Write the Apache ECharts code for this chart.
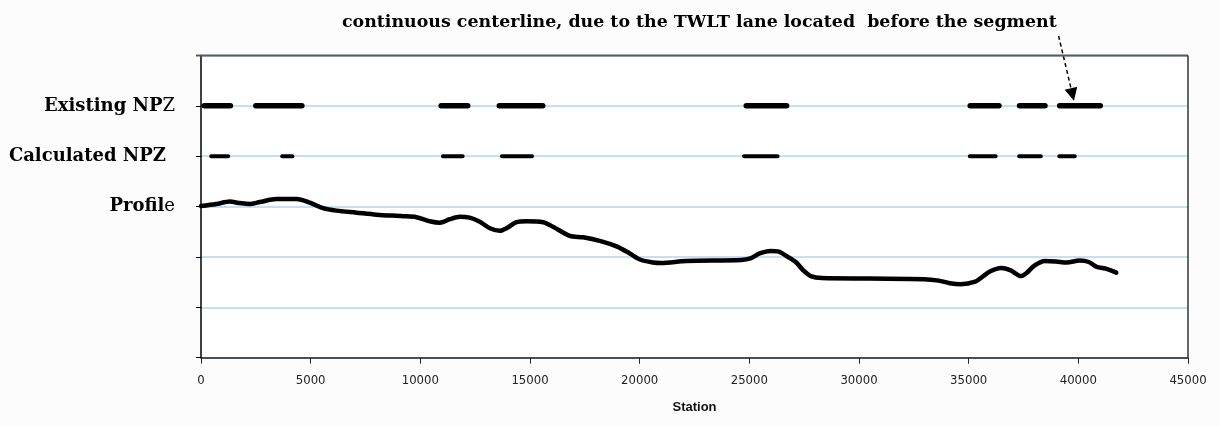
<!DOCTYPE html>
<html><head><meta charset="utf-8">
<script src="https://cdn.jsdelivr.net/npm/echarts@6/dist/echarts.min.js"></script>
<style>html,body{margin:0;padding:0;background:#fcfcfc}#c{width:1220px;height:426px}</style>
</head><body><div id="c"></div>
<script>
const titleText = 'continuous centerline, due to the TWLT lane located  before the segment';
const xAxisName = 'Station';
const yTickLabels = ['', '', '', 'Profile', 'Calculated NPZ', 'Existing NPZ', ''];
const existingLevel = 5;
const calculatedLevel = 4;
const existingNPZ = [[150,1340],[2500,4600],[10950,12160],[13600,15580],[24860,26700],[35070,36380],[37320,38480],[39150,41000]];
const calculatedNPZ = [[465,1240],[3700,4170],[11030,11930],[13720,15090],[24760,26290],[35050,36230],[37300,38290],[39130,39840]];
const profileStation = [0,700,1310,1765,2220,2680,3440,4350,4960,5560,6175,7090,8000,9210,9820,10430,10890,11340,11800,12250,12710,13170,13620,13930,14380,14840,15600,16050,16815,17420,18180,18945,19550,20010,20610,20965,22130,24630,25050,25470,25970,26300,26800,27140,27470,27800,28300,30470,32970,33635,34140,34640,35300,35640,35970,36470,36890,37390,37640,37970,38470,38975,39470,40060,40480,40810,41310,41730];
const profileValue = [3.01,3.05,3.10,3.07,3.05,3.09,3.15,3.15,3.08,2.97,2.92,2.88,2.84,2.81,2.79,2.71,2.68,2.75,2.80,2.78,2.70,2.57,2.52,2.57,2.69,2.71,2.69,2.60,2.42,2.39,2.32,2.21,2.07,1.95,1.89,1.88,1.92,1.94,1.97,2.07,2.12,2.11,1.99,1.89,1.73,1.62,1.58,1.57,1.56,1.53,1.48,1.46,1.51,1.61,1.71,1.78,1.74,1.62,1.68,1.82,1.92,1.91,1.89,1.93,1.90,1.81,1.76,1.69];
const arrowFrom = [39100, 6.39];
const arrowTo = [39800, 5.10];
const xMin = 0, xMax = 45000, yMin = 0, yMax = 6;

function segData(segs, level) {
  const d = [];
  segs.forEach(s => { d.push([s[0], level], [s[1], level], [s[1], '-']); });
  return d;
}
const profileData = profileStation.map((s, i) => [s, profileValue[i]]);

const chart = echarts.init(document.getElementById('c'), null, {renderer: 'canvas'});
chart.setOption({
  backgroundColor: '#fcfcfc',
  animation: false,
  title: {
    text: titleText, left: 337, top: 9,
    textStyle: {fontFamily: 'DejaVu Serif', fontWeight: 'bold', fontSize: 17.4, color: '#000'}
  },
  grid: {left: 201, right: 32, top: 55.5, bottom: 68.3, show: true, backgroundColor: '#ffffff', borderWidth: 0},
  xAxis: {
    type: 'value', min: xMin, max: xMax, interval: 5000,
    name: xAxisName, nameLocation: 'middle', nameGap: 43,
    nameTextStyle: {fontFamily: 'Liberation Sans', fontWeight: 'bold', fontSize: 13, color: '#111'},
    axisLine: {show: true, lineStyle: {color: '#222', width: 1.5}},
    axisTick: {show: true, length: 6, lineStyle: {color: '#222'}},
    axisLabel: {margin: 16, formatter: v => String(v), fontFamily: 'Liberation Sans Narrow, DejaVu Sans Condensed, sans-serif', fontSize: 13, color: '#222'},
    splitLine: {show: false}
  },
  yAxis: {
    type: 'value', min: yMin, max: yMax, interval: 1,
    axisLine: {show: true, lineStyle: {color: '#000', width: 1.5}},
    axisTick: {show: true, length: 5, lineStyle: {color: '#000'}},
    splitLine: {show: true, lineStyle: {color: '#b3d5f7', width: 1.5}},
    axisLabel: {
      margin: 26,
      formatter: v => {
        const t = yTickLabels[Math.round(v)] || '';
        if (!t) return '';
        if (t === 'Calculated NPZ') return '{b|' + t + '}{sp|}';
        return '{b|' + t.slice(0, -1) + '}{r|' + t.slice(-1) + '}';
      },
      rich: {
        b: {fontFamily: 'DejaVu Serif', fontWeight: 'bold', fontSize: 18, color: '#000'},
        r: {fontFamily: 'DejaVu Serif', fontWeight: 'normal', fontSize: 18, color: '#000'},
        sp: {width: 9}
      }
    }
  },
  series: [{
    name: 'Existing NPZ', type: 'line', data: segData(existingNPZ, existingLevel),
    showSymbol: false, connectNulls: false, z: 3,
    lineStyle: {color: '#000', width: 5.5, cap: 'round'}
  }, {
    name: 'Calculated NPZ', type: 'line', data: segData(calculatedNPZ, calculatedLevel),
    showSymbol: false, connectNulls: false, z: 3,
    lineStyle: {color: '#000', width: 4, cap: 'round'}
  }, {
    name: 'Profile', type: 'line', data: profileData, smooth: 0.3,
    showSymbol: false, z: 3,
    lineStyle: {color: '#000', width: 4.5, cap: 'round', join: 'round'}
  }]
});

const tl = chart.convertToPixel({gridIndex: 0}, [xMin, yMax]);
const tr = chart.convertToPixel({gridIndex: 0}, [xMax, yMax]);
const br = chart.convertToPixel({gridIndex: 0}, [xMax, yMin]);
const p1 = chart.convertToPixel({gridIndex: 0}, arrowFrom);
const p2 = chart.convertToPixel({gridIndex: 0}, arrowTo);
const dx = p2[0] - p1[0], dy = p2[1] - p1[1];
const len = Math.hypot(dx, dy);
const ux = dx / len, uy = dy / len;
const headL = 13, headW = 6.5;
const bx = p2[0] - ux * headL, by = p2[1] - uy * headL;
chart.setOption({
  graphic: [{
    type: 'line', z: 20,
    shape: {x1: tl[0] - 5, y1: tl[1], x2: tr[0], y2: tr[1]},
    style: {stroke: '#5a5a5a', lineWidth: 2}
  }, {
    type: 'line', z: 20,
    shape: {x1: tr[0], y1: tr[1], x2: br[0], y2: br[1]},
    style: {stroke: '#333', lineWidth: 1.5}
  }, {
    type: 'line', z: 10,
    shape: {x1: p1[0], y1: p1[1], x2: bx, y2: by},
    style: {stroke: '#000', lineWidth: 1.5, lineDash: [4, 3]}
  }, {
    type: 'polygon', z: 10,
    shape: {points: [[p2[0], p2[1]], [bx - uy * headW, by + ux * headW], [bx + uy * headW, by - ux * headW]]},
    style: {fill: '#000'}
  }]
});
</script>
</body></html>
